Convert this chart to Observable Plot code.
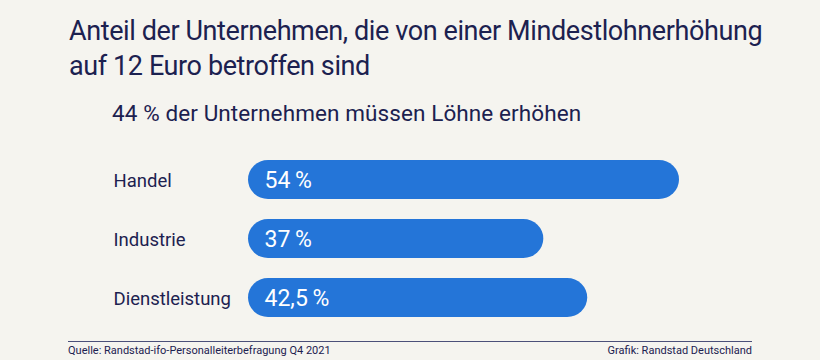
<!DOCTYPE html>
<html>
<head>
<meta charset="utf-8">
<script src="https://cdn.jsdelivr.net/npm/d3@7"></script>
<script src="https://cdn.jsdelivr.net/npm/@observablehq/plot@0.6"></script>
<style>
  html, body { margin: 0; padding: 0; background: #f5f4ef; }
  #wrap { position: relative; width: 820px; height: 360px; overflow: hidden; background: #f5f4ef; font-family: Roboto, "Noto Sans", sans-serif; color: #1c2150; }
  .abs { position: absolute; white-space: nowrap; }
  #title { left: 69px; top: 14px; font-size: 27px; line-height: 35px; letter-spacing: -0.4px; font-weight: 400; }
  #subtitle { left: 112px; top: 100px; font-size: 22.5px; letter-spacing: 0.1px; }
  #rule { left: 68px; top: 341px; width: 684px; height: 1px; background: #4b5079; }
  #source { left: 68px; top: 344px; font-size: 11px; letter-spacing: 0px; }
  #credit { right: 68px; top: 344px; font-size: 11px; letter-spacing: 0px; }
  #chart { position: absolute; left: 0; top: 0; }
</style>
</head>
<body>
<div id="wrap">
  <div id="title" class="abs"></div>
  <div id="subtitle" class="abs"></div>
  <div id="chart"></div>
  <div id="rule" class="abs"></div>
  <div id="source" class="abs"></div>
  <div id="credit" class="abs"></div>
</div>
<script>
const titleLines = ["Anteil der Unternehmen, die von einer Mindestlohnerhöhung", "auf 12 Euro betroffen sind"];
const subtitleText = "44 % der Unternehmen müssen Löhne erhöhen";
const sourceText = "Quelle: Randstad-ifo-Personalleiterbefragung Q4 2021";
const creditText = "Grafik: Randstad Deutschland";

const categories = ["Handel", "Industrie", "Dienstleistung"];
const values = [54, 37, 42.5];
const valueLabels = ["54\u2009%", "37\u2009%", "42,5\u2009%"];

document.getElementById("title").innerHTML = titleLines.join("<br>");
document.getElementById("subtitle").textContent = subtitleText;
document.getElementById("source").textContent = sourceText;
document.getElementById("credit").textContent = creditText;

const data = categories.map((c, i) => ({cat: c, value: values[i], label: valueLabels[i]}));

const chart = Plot.plot({
  width: 820,
  height: 360,
  marginLeft: 248,
  marginRight: 141,
  marginTop: 139,
  marginBottom: 22.5,
  style: {background: "transparent", fontFamily: "Roboto, 'Noto Sans', sans-serif"},
  x: {domain: [0, 54], axis: null},
  y: {domain: categories, axis: null, padding: 0.336},
  marks: [
    Plot.barX(data, {x: "value", y: "cat", fill: "#2475d8", rx: 20}),
    Plot.text(data, {x: 0, y: "cat", text: "cat", textAnchor: "start", dx: -135, dy: 1, fontSize: 18.5, fill: "#1c2150", style: "letter-spacing:-0.2px"}),
    Plot.text(data, {x: 0, y: "cat", text: "label", textAnchor: "start", dx: 16, dy: 1, fontSize: 23, fill: "#ffffff"})
  ]
});
document.getElementById("chart").appendChild(chart);
</script>
</body>
</html>
